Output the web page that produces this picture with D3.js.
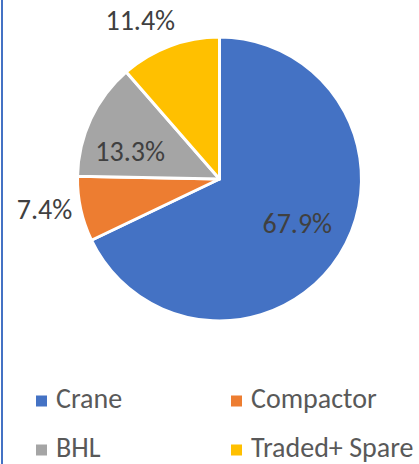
<!DOCTYPE html>
<html>
<head>
<meta charset="utf-8">
<script src="https://cdn.jsdelivr.net/npm/d3@7"></script>
<style>
  html, body { margin: 0; padding: 0; background: #fff; }
  svg { display: block; }
</style>
</head>
<body>
<svg id="chart" width="419" height="464"></svg>
<script>
// Share of fleet by segment
const categories = ["Crane", "Compactor", "BHL", "Traded+ Spare"];
const shares = [67.9, 7.4, 13.3, 11.4];
const colors = ["#4472C4", "#ED7D31", "#A5A5A5", "#FFC000"];
// labels drawn inside the slice (true) or just outside it (false)
const insideLabel = [true, false, true, false];

const W = 419, H = 464;
const svg = d3.select("#chart");
const FONT = "Carlito, Lato, 'Open Sans', sans-serif";

// frame edge on the left
svg.append("rect").attr("x", 1).attr("y", 0).attr("width", 2).attr("height", H)
  .attr("fill", "#4472C4");

const cx = 219.5, cy = 179, R = 142;

const pie = d3.pie().sort(null).value(d => d)
  .startAngle(0).endAngle(2 * Math.PI);
const arcs = pie(shares);

const arc = d3.arc().innerRadius(0).outerRadius(R);
const g = svg.append("g").attr("transform", `translate(${cx},${cy})`);

g.selectAll("path.slice").data(arcs).enter().append("path")
  .attr("class", "slice")
  .attr("d", arc)
  .attr("fill", (d, i) => colors[i])
  .attr("stroke", "#fff")
  .attr("stroke-width", 3)
  .attr("stroke-linejoin", "round");

const inArc = d3.arc().innerRadius(R * 0.66).outerRadius(R * 0.66);
const outArc = d3.arc().innerRadius(R * 1.24).outerRadius(R * 1.24);
// small best-fit shifts so labels sit clear of slice edges
const labelShift = [[-1.5, -5.5], [-3, -7.5], [-4.5, 12], [-17.5, 6]];

g.selectAll("text.val").data(arcs).enter().append("text")
  .attr("class", "val")
  .attr("transform", (d, i) => {
    const p = insideLabel[i] ? inArc.centroid(d) : outArc.centroid(d);
    return `translate(${p[0] + labelShift[i][0]},${p[1] + labelShift[i][1]})`;
  })
  .attr("text-anchor", "middle")
  .attr("dy", "0.35em")
  .attr("font-family", FONT)
  .attr("font-size", 28)
  .attr("fill", "#404040")
  .text(d => d.data.toFixed(1) + "%");

// legend: two columns, two rows
const legendX = [36, 231], legendY = [401, 450];
const lg = svg.append("g");
categories.forEach((c, i) => {
  const x = legendX[i % 2], y = legendY[Math.floor(i / 2)];
  lg.append("rect").attr("x", x).attr("y", y - 5.5).attr("width", 11).attr("height", 11)
    .attr("fill", colors[i]);
  lg.append("text").attr("x", x + 20).attr("y", y + 7)
    .attr("font-family", FONT).attr("font-size", 28).attr("fill", "#595959")
    .text(c);
});
</script>
</body>
</html>
